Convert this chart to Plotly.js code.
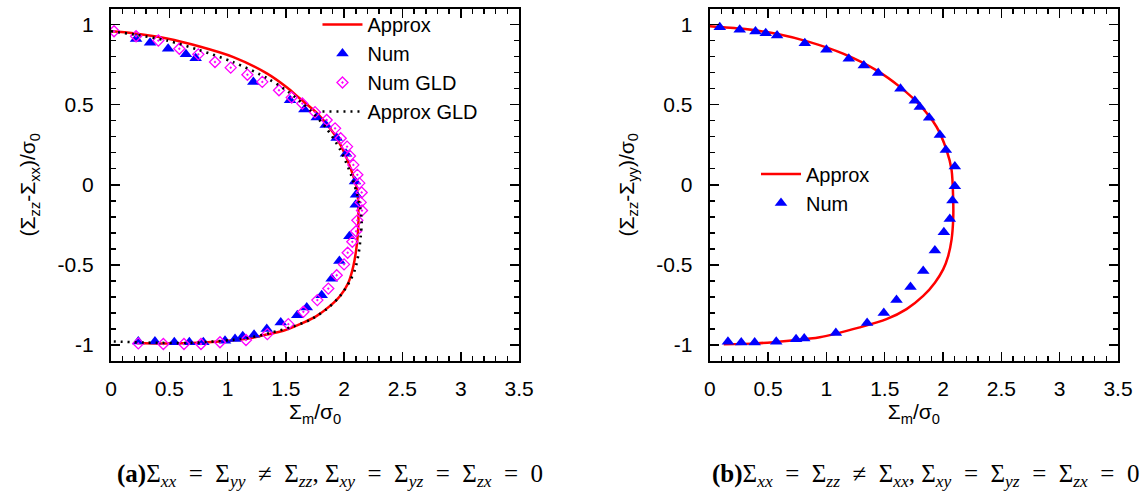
<!DOCTYPE html>
<html>
<head>
<meta charset="utf-8">
<script src="https://cdn.plot.ly/plotly-3.0.1.min.js"></script>
<style>
  html, body { margin: 0; padding: 0; background: #fff; }
  #chart { width: 1142px; height: 498px; }
</style>
</head>
<body>
<div id="chart"></div>
<script>
// ---------- Data ----------
// Panel (a): Sigma_xx = Sigma_yy != Sigma_zz
const aApproxX = [0.0, 0.19, 0.48, 0.76, 1.05, 1.34, 1.51, 1.62, 1.77, 1.91, 1.99, 2.06, 2.11, 2.122, 2.107, 2.079, 2.036, 1.965, 1.879, 1.765, 1.621, 1.478, 1.336, 1.19, 0.96, 0.68, 0.40, 0.22];
const aApproxY = [0.958, 0.946, 0.913, 0.863, 0.797, 0.694, 0.607, 0.538, 0.445, 0.321, 0.217, 0.093, -0.03, -0.238, -0.383, -0.507, -0.611, -0.694, -0.756, -0.818, -0.87, -0.911, -0.935, -0.958, -0.977, -0.988, -0.99, -0.988];

const aNumX = [0.215, 0.335, 0.49, 0.643, 0.726, 1.221, 1.536, 1.659, 1.765, 1.842, 1.936, 2.016, 2.093, 2.102, 2.099, 2.045, 1.959, 1.893, 1.807, 1.679, 1.598, 1.456, 1.336, 1.227, 1.13, 1.064, 0.978, 0.792, 0.672, 0.543, 0.377, 0.234];
const aNumY = [0.909, 0.886, 0.849, 0.814, 0.789, 0.642, 0.528, 0.47, 0.42, 0.373, 0.292, 0.193, 0.021, -0.062, -0.124, -0.321, -0.476, -0.586, -0.689, -0.766, -0.814, -0.859, -0.901, -0.936, -0.946, -0.963, -0.973, -0.983, -0.983, -0.983, -0.979, -0.979];

const aNumGldX = [0.026, 0.215, 0.406, 0.586, 0.749, 0.892, 1.027, 1.17, 1.298, 1.441, 1.55, 1.641, 1.75, 1.85, 1.922, 1.97, 2.025, 2.05, 2.079, 2.113, 2.13, 2.15, 2.142, 2.153, 2.113, 2.102, 2.07, 2.03, 1.999, 1.936, 1.864, 1.77, 1.65, 1.521, 1.341, 1.158, 0.935, 0.772, 0.626, 0.449, 0.234];
const aNumGldY = [0.958, 0.927, 0.9, 0.849, 0.814, 0.766, 0.731, 0.687, 0.642, 0.59, 0.545, 0.507, 0.453, 0.404, 0.352, 0.29, 0.238, 0.18, 0.124, 0.062, 0.01, -0.048, -0.11, -0.161, -0.222, -0.29, -0.356, -0.424, -0.497, -0.565, -0.648, -0.72, -0.793, -0.87, -0.932, -0.969, -0.983, -0.994, -0.994, -0.994, -0.99];

const aApproxGldX = [0.0, 0.2, 0.48, 0.76, 1.05, 1.34, 1.52, 1.715, 1.85, 1.965, 2.06, 2.13, 2.15, 2.142, 2.125, 2.093, 2.05, 1.965, 1.85, 1.707, 1.564, 1.364, 1.164, 0.678, 0.3, 0.063, 0.0];
const aApproxGldY = [0.958, 0.938, 0.9, 0.84, 0.765, 0.665, 0.58, 0.46, 0.35, 0.22, 0.06, -0.114, -0.228, -0.321, -0.424, -0.528, -0.6, -0.694, -0.776, -0.843, -0.884, -0.925, -0.958, -0.987, -0.985, -0.979, -0.978];

// Panel (b): Sigma_xx = Sigma_zz != Sigma_xx
const bApproxX = [0.0, 0.286, 0.572, 0.858, 1.143, 1.43, 1.63, 1.801, 1.944, 2.03, 2.073, 2.087, 2.087, 2.073, 2.044, 2.001, 1.93, 1.83, 1.687, 1.515, 1.286, 0.943, 0.68, 0.4, 0.12];
const bApproxY = [0.99, 0.973, 0.942, 0.89, 0.818, 0.714, 0.611, 0.497, 0.362, 0.217, 0.093, -0.093, -0.217, -0.342, -0.445, -0.528, -0.611, -0.694, -0.776, -0.839, -0.89, -0.952, -0.973, -0.99, -0.995];

const bNumX = [0.086, 0.257, 0.392, 0.48, 0.577, 0.815, 1.0, 1.192, 1.321, 1.444, 1.635, 1.758, 1.801, 1.881, 1.973, 2.024, 2.101, 2.101, 2.081, 2.058, 2.007, 1.93, 1.83, 1.721, 1.601, 1.492, 1.349, 1.081, 0.81, 0.74, 0.57, 0.385, 0.27, 0.156];
const bNumY = [0.983, 0.967, 0.957, 0.946, 0.932, 0.884, 0.843, 0.787, 0.745, 0.698, 0.6, 0.524, 0.486, 0.418, 0.311, 0.217, 0.114, -0.01, -0.099, -0.213, -0.296, -0.41, -0.538, -0.638, -0.72, -0.801, -0.863, -0.925, -0.96, -0.965, -0.98, -0.985, -0.985, -0.98];

// Tick labels
const xTickVals = [0, 0.5, 1, 1.5, 2, 2.5, 3, 3.5];
const xTickText = ["0", "0.5", "1", "1.5", "2", "2.5", "3", "3.5"];
const yTickVals = [-1, -0.5, 0, 0.5, 1];
const yTickText = ["-1", "-0.5", "0", "0.5", "1"];

// Texts
const xTitle = "Σ<sub>m</sub>/σ<sub>0</sub>";
const yTitleA = "(Σ<sub>zz</sub>-Σ<sub>xx</sub>)/σ<sub>0</sub>";
const yTitleB = "(Σ<sub>zz</sub>-Σ<sub>yy</sub>)/σ<sub>0</sub>";
const S = "&nbsp;&nbsp;";
const captionA = "<b>(a)</b>Σ<sub><i>xx</i></sub>" + S + "=" + S + "Σ<sub><i>yy</i></sub>" + S + "≠" + S + "Σ<sub><i>zz</i></sub>, Σ<sub><i>xy</i></sub>" + S + "=" + S + "Σ<sub><i>yz</i></sub>" + S + "=" + S + "Σ<sub><i>zx</i></sub>" + S + "=" + S + "0";
const captionB = "<b>(b)</b>Σ<sub><i>xx</i></sub>" + S + "=" + S + "Σ<sub><i>zz</i></sub>" + S + "≠" + S + "Σ<sub><i>xx</i></sub>, Σ<sub><i>xy</i></sub>" + S + "=" + S + "Σ<sub><i>yz</i></sub>" + S + "=" + S + "Σ<sub><i>zx</i></sub>" + S + "=" + S + "0";

// ---------- Styles ----------
const FONT = "Liberation Sans, Arial, sans-serif";
const SERIF = "Liberation Serif, DejaVu Serif, serif";
const RED = "#ff0000", BLUE = "#0000ff", MAGENTA = "#ff00ff";

const traces = [
  { x: aApproxX, y: aApproxY, name: "Approx", mode: "lines", type: "scatter",
    line: { color: RED, width: 2.5, shape: "spline", smoothing: 0.8 }, xaxis: "x", yaxis: "y", legend: "legend" },
  { x: aNumX, y: aNumY, name: "Num", mode: "markers", type: "scatter",
    marker: { symbol: "triangle-up", color: BLUE, size: 11 }, xaxis: "x", yaxis: "y", legend: "legend" },
  { x: aNumGldX, y: aNumGldY, name: "Num GLD", mode: "markers", type: "scatter",
    marker: { symbol: "diamond-open-dot", color: MAGENTA, size: 8.5, line: { width: 1.3, color: MAGENTA } }, xaxis: "x", yaxis: "y", legend: "legend" },
  { x: aApproxGldX, y: aApproxGldY, name: "Approx GLD", mode: "lines", type: "scatter",
    line: { color: "#000", width: 2.6, dash: "2px,5px", shape: "spline", smoothing: 0.8 }, xaxis: "x", yaxis: "y", legend: "legend" },
  { x: bApproxX, y: bApproxY, name: "Approx", mode: "lines", type: "scatter",
    line: { color: RED, width: 2.5, shape: "spline", smoothing: 0.8 }, xaxis: "x2", yaxis: "y2", legend: "legend2" },
  { x: bNumX, y: bNumY, name: "Num", mode: "markers", type: "scatter",
    marker: { symbol: "triangle-up", color: BLUE, size: 11 }, xaxis: "x2", yaxis: "y2", legend: "legend2" }
];

function xAxis(domain, anchor) {
  return {
    domain: domain, anchor: anchor, range: [0, 3.5],
    tickmode: "array", tickvals: xTickVals, ticktext: xTickText,
    ticks: "inside", ticklen: 9, tickwidth: 1.5, tickcolor: "#000",
    showline: true, linewidth: 2, linecolor: "#000", mirror: "allticks",
    showgrid: false, zeroline: false, ticklabelstandoff: 8,
    minor: { tickmode: "linear", tick0: 0, dtick: 0.1, ticks: "inside", ticklen: 5, tickwidth: 1.5, tickcolor: "#000", showgrid: false },
    tickfont: { family: FONT, size: 21, color: "#000" },
    title: { text: xTitle, font: { family: FONT, size: 21, color: "#000" }, standoff: 4 },
    fixedrange: true
  };
}
function yAxis(anchor, title) {
  return {
    domain: [0.2751, 0.9829], anchor: anchor, range: [-1.1, 1.1],
    tickmode: "array", tickvals: yTickVals, ticktext: yTickText,
    ticks: "inside", ticklen: 9, tickwidth: 1.5, tickcolor: "#000",
    showline: true, linewidth: 2, linecolor: "#000", mirror: "allticks",
    showgrid: false, zeroline: false, ticklabelstandoff: 11,
    minor: { tickmode: "linear", tick0: 0, dtick: 0.1, ticks: "inside", ticklen: 5, tickwidth: 1.5, tickcolor: "#000", showgrid: false },
    tickfont: { family: FONT, size: 21, color: "#000" },
    title: { text: title, font: { family: FONT, size: 21, color: "#000" }, standoff: 16 },
    fixedrange: true
  };
}

const layout = {
  width: 1142, height: 498,
  margin: { l: 0, r: 0, t: 0, b: 0, pad: 0 },
  paper_bgcolor: "#fff", plot_bgcolor: "#fff",
  font: { family: FONT, size: 21, color: "#000" },
  xaxis: xAxis([0.0972, 0.4545], "y"),
  yaxis: yAxis("x", yTitleA),
  xaxis2: xAxis([0.6215, 0.979], "y2"),
  yaxis2: yAxis("x2", yTitleB),
  legend: {
    x: 0.278, y: 0.99, xanchor: "left", yanchor: "top",
    bgcolor: "rgba(0,0,0,0)", borderwidth: 0,
    font: { family: FONT, size: 20, color: "#000" }, tracegroupgap: 0, itemwidth: 40
  },
  legend2: {
    x: 0.662, y: 0.69, xanchor: "left", yanchor: "top",
    bgcolor: "rgba(0,0,0,0)", borderwidth: 0,
    font: { family: FONT, size: 20, color: "#000" }, tracegroupgap: 0, itemwidth: 40
  },
  showlegend: true,
  annotations: [
    { text: captionA, xref: "paper", yref: "paper", x: 0.2894, y: 0.046, xanchor: "center", yanchor: "middle",
      showarrow: false, font: { family: SERIF, size: 25, color: "#000" } },
    { text: captionB, xref: "paper", yref: "paper", x: 0.81, y: 0.046, xanchor: "center", yanchor: "middle",
      showarrow: false, font: { family: SERIF, size: 25, color: "#000" } }
  ]
};

Plotly.newPlot("chart", traces, layout, { displayModeBar: false, staticPlot: true });
</script>
</body>
</html>
